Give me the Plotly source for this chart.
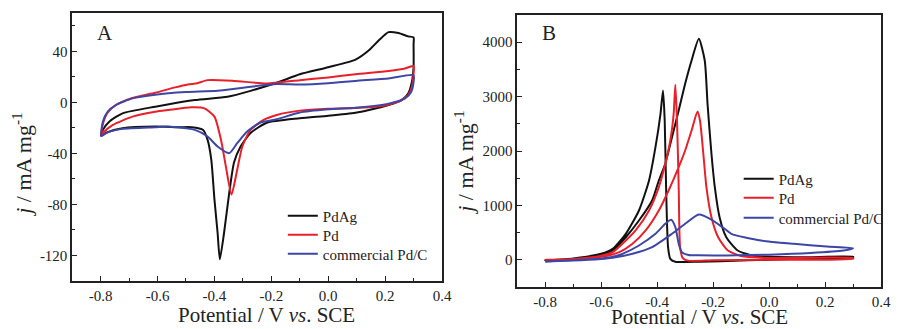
import plotly.graph_objects as go

FONT = "Liberation Serif, Times New Roman, serif"
NAMES = ["PdAg", "Pd", "commercial Pd/C"]
COLORS = ["#111111", "#e8202a", "#3d46a5"]

# ---------------- Panel A (CV in KOH) ----------------
A_PdAg_V = [-0.798, -0.792, -0.769, -0.723, -0.608, -0.469, -0.354, -0.273, -0.181, -0.1, 0.0, 0.096, 0.143, 0.178,
            0.212, 0.247, 0.281, 0.3, 0.3, 0.3, 0.294, 0.281, 0.258, 0.212, 0.143, 0.096, 0.0, -0.1, -0.216, -0.273,
            -0.308, -0.331, -0.348, -0.366, -0.381, -0.389, -0.4, -0.411, -0.424, -0.44, -0.48, -0.527, -0.608,
            -0.723, -0.78, -0.798]
A_PdAg_J = [-26, -21.6, -15, -8.6, -3.4, 1.8, 4.4, 9, 15.3, 22, 27.5, 33.5, 40.8, 48.6,
            55, 54.3, 51.7, 50.9, 45.7, 27.8, 16, 7, 1.8, -2.1, -6, -8.1, -10.5, -12.5, -16, -24,
            -34.6, -47, -71, -102, -123, -102, -76, -45, -29.4, -21.6, -19.5, -19.5, -19,
            -20.3, -23.7, -26]

A_Pd_V = [-0.798, -0.792, -0.775, -0.746, -0.688, -0.608, -0.538, -0.493, -0.46, -0.424, -0.331, -0.216, -0.1, 0.0,
          0.096, 0.212, 0.27, 0.3, 0.3, 0.294, 0.281, 0.247, 0.189, 0.096, 0.0, -0.1, -0.181, -0.227, -0.273, -0.302,
          -0.32, -0.34, -0.36, -0.377, -0.4, -0.435, -0.481, -0.562, -0.608, -0.688, -0.757, -0.792, -0.798]
A_Pd_J = [-26, -17, -8, -2, 3.5, 7.5, 11.7, 14, 15, 17.4, 16.8, 14.8, 17.4, 19.5,
          22, 24.6, 26.5, 28.6, 22.6, 12.2, 5.7, 0.5, -2.9, -4.5, -5, -6.5, -9.9, -13.8, -21.6, -34.6,
          -52.8, -72.3, -50, -29.4, -11.2, -4.7, -3.9, -6, -7.3, -11.2, -17.7, -24, -26]

A_PdC_V = [-0.798, -0.792, -0.775, -0.746, -0.688, -0.608, -0.5, -0.389, -0.273, -0.181, -0.1, 0.0, 0.096, 0.212,
           0.3, 0.3, 0.292, 0.27, 0.212, 0.096, 0.0, -0.1, -0.181, -0.24, -0.285, -0.32, -0.348, -0.389, -0.424,
           -0.469, -0.562, -0.608, -0.723, -0.78, -0.798]
A_PdC_J = [-26.5, -15, -7.3, -2.1, 3.1, 6, 8, 9, 12.2, 14.3, 14, 15, 16.8, 18.7,
           21.3, 16, 8.3, 3.1, -1, -4.2, -5.5, -8, -13.3, -16, -22.9, -32, -39.8, -34.6, -26.8,
           -21.6, -19, -19.5, -20.8, -24, -26.5]

# ---------------- Panel B (CV in KOH + fuel) ----------------
B_PdAg_V = [-0.8, -0.7, -0.6, -0.559, -0.512, -0.465, -0.418, -0.394, -0.371, -0.347, -0.323, -0.3, -0.277, -0.251,
            -0.23, -0.22, -0.206, -0.194, -0.177, -0.153, -0.112, -0.05, 0.1, 0.3,
            0.3, 0.1, -0.1, -0.25, -0.335, -0.353, -0.361, -0.368, -0.373, -0.379, -0.388, -0.406, -0.429, -0.465,
            -0.512, -0.559, -0.6, -0.7, -0.8]
B_PdAg_J = [-10, 20, 90, 171, 415, 722, 1090, 1458, 1765, 2254, 2744, 3235, 3664, 4062,
            3664, 2868, 1949, 1335, 783, 415, 171, 70, 45, 55,
            45, 20, -15, -35, -35, 18, 232, 1335, 2560, 3112, 2684, 2070, 1458, 906,
            478, 202, 110, 25, -10]

B_Pd_V = [-0.8, -0.7, -0.6, -0.535, -0.488, -0.441, -0.394, -0.359, -0.323, -0.3, -0.277, -0.256, -0.247, -0.235,
          -0.224, -0.206, -0.182, -0.147, -0.1, 0.0, 0.3,
          0.3, 0.0, -0.2, -0.29, -0.309, -0.318, -0.323, -0.329, -0.335, -0.341, -0.353, -0.371, -0.394, -0.429,
          -0.477, -0.524, -0.559, -0.6, -0.7, -0.8]
B_Pd_J = [0, 10, 55, 140, 294, 539, 906, 1274, 1702, 2009, 2377, 2726, 2561, 1949,
          1335, 783, 415, 171, 70, 35, 35,
          20, 0, -10, -15, 37, 232, 1335, 2560, 3217, 2684, 2193, 1765, 1335, 906,
          539, 294, 140, 75, 15, 0]

B_PdC_V = [-0.8, -0.7, -0.6, -0.559, -0.488, -0.418, -0.347, -0.3, -0.251, -0.206, -0.159, -0.135, -0.029, 0.088,
           0.206, 0.3,
           0.265, 0.147, 0.0, -0.15, -0.25, -0.288, -0.312, -0.323, -0.335, -0.35, -0.371, -0.406, -0.465, -0.524,
           -0.559, -0.6, -0.7, -0.8]
B_PdC_J = [-30, -15, 15, 37, 110, 232, 478, 662, 833, 740, 570, 478, 355, 294,
           245, 213,
           170, 125, 95, 80, 82, 88, 140, 294, 600, 735, 662, 478, 263, 110,
           55, 25, -10, -35]

X_TICKS = [-0.8, -0.6, -0.4, -0.2, 0.0, 0.2, 0.4]
X_TICK_TEXT = ["-0.8", "-0.6", "-0.4", "-0.2", "0.0", "0.2", "0.4"]
A_Y_TICKS = [-120, -80, -40, 0, 40]
A_Y_TICK_TEXT = ["-120", "-80", "-40", "0", "40"]
B_Y_TICKS = [0, 1000, 2000, 3000, 4000]
B_Y_TICK_TEXT = ["0", "1000", "2000", "3000", "4000"]

panelA = [(A_PdAg_V, A_PdAg_J), (A_Pd_V, A_Pd_J), (A_PdC_V, A_PdC_J)]
panelB = [(B_PdAg_V, B_PdAg_J), (B_Pd_V, B_Pd_J), (B_PdC_V, B_PdC_J)]

W, H = 899, 329
def px(x): return x / W
def py(y): return 1 - y / H

fig = go.Figure()
legend_layout = {}
# legend item centres (pixels) for each panel
LEG_A = dict(x=286, ys=[217, 236, 255])
LEG_B = dict(x=747, ys=[180, 199, 219])
for panel, (data, leg, xa, ya, base) in enumerate([(panelA, LEG_A, "x", "y", 1), (panelB, LEG_B, "x2", "y2", 4)]):
    for i, (v, j) in enumerate(data):
        lname = "legend" if base + i == 1 else f"legend{base + i}"
        fig.add_trace(go.Scatter(x=v, y=j, mode="lines", name=NAMES[i], xaxis=xa, yaxis=ya,
                                 line=dict(color=COLORS[i], width=2, shape="spline", smoothing=0.6),
                                 legend=lname))
        legend_layout[lname] = dict(x=px(leg["x"]), y=py(leg["ys"][i] - 17.5), xanchor="left", yanchor="top",
                                    bgcolor="rgba(0,0,0,0)", font=dict(family=FONT, size=15, color="#222"))

axis_common = dict(showline=True, linecolor="#222", linewidth=1.6, mirror=True, ticks="inside",
                   ticklen=5, tickwidth=1.3, tickcolor="#222", showgrid=False, zeroline=False,
                   tickfont=dict(family=FONT, size=15, color="#222"))

fig.update_layout(
    width=W, height=H, autosize=False, margin=dict(l=0, r=0, t=0, b=0),
    paper_bgcolor="white", plot_bgcolor="white",
    xaxis=dict(domain=[px(73), px(447)], range=[-0.9, 0.4], tickvals=X_TICKS, ticktext=X_TICK_TEXT,
               minor=dict(ticks="inside", ticklen=3, tickcolor="#222", dtick=0.1, tick0=0), anchor="y", **axis_common),
    yaxis=dict(domain=[py(281), py(13)], range=[-140, 70], tickvals=A_Y_TICKS, ticktext=A_Y_TICK_TEXT,
               minor=dict(ticks="inside", ticklen=3, tickcolor="#222", dtick=20, tick0=0), anchor="x", **axis_common),
    xaxis2=dict(domain=[px(523), px(891)], range=[-0.9, 0.4], tickvals=X_TICKS, ticktext=X_TICK_TEXT,
                minor=dict(ticks="inside", ticklen=3, tickcolor="#222", dtick=0.1, tick0=0), anchor="y2", **axis_common),
    yaxis2=dict(domain=[py(287), py(15)], range=[-500, 4500], tickvals=B_Y_TICKS, ticktext=B_Y_TICK_TEXT,
                minor=dict(ticks="inside", ticklen=3, tickcolor="#222", dtick=500, tick0=0), anchor="x2", **axis_common),
    showlegend=True,
    **legend_layout,
)

ann = [
    dict(text="A", x=px(96), y=py(33), xanchor="left", yanchor="middle", font=dict(size=21)),
    dict(text="B", x=px(546), y=py(33), xanchor="left", yanchor="middle", font=dict(size=21)),
    dict(text="Potential / V <i>vs</i>. SCE", x=px(270), y=0, xanchor="center", yanchor="bottom",
         font=dict(size=21)),
    dict(text="Potential / V <i>vs</i>. SCE", x=px(707), y=0, xanchor="center", yanchor="bottom",
         yshift=-2, font=dict(size=21)),
    dict(text="<i>j</i> / mA mg<sup>-1</sup>", x=px(22), y=py(165), xanchor="center", yanchor="middle",
         textangle=-90, font=dict(size=22)),
    dict(text="<i>j</i> / mA mg<sup>-1</sup>", x=px(469), y=py(163), xanchor="center", yanchor="middle",
         textangle=-90, font=dict(size=22)),
]
for a in ann:
    a.update(xref="paper", yref="paper", showarrow=False)
    a["font"].update(family=FONT, color="#222")
    fig.add_annotation(**a)

fig.write_html("out.html", config={"responsive": False, "displayModeBar": False},
               post_script="document.body.style.margin='0px';document.body.style.padding='0px';")
